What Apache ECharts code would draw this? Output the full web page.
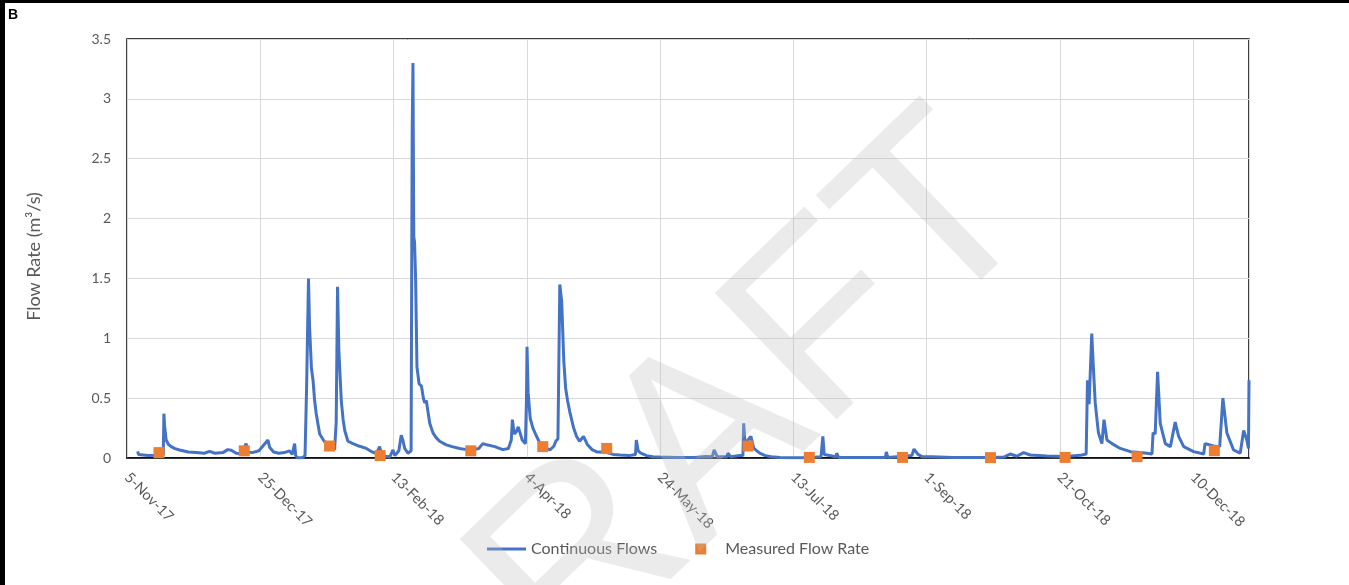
<!DOCTYPE html>
<html><head><meta charset="utf-8">
<script src="https://cdn.jsdelivr.net/npm/echarts@6/dist/echarts.min.js"></script>
<style>html,body{margin:0;padding:0;background:#fff}#c{width:1349px;height:585px}</style>
</head><body><div id="c"></div>
<script>
// x axis: days since 5-Nov-2017 (ticks every 50 days)
const startYMD = [2017, 10, 5];
const xMinDay = 0, xMaxDay = 421, xStepDays = 50;
const monthNames = ['Jan','Feb','Mar','Apr','May','Jun','Jul','Aug','Sep','Oct','Nov','Dec'];
const yMin = 0, yMax = 3.5, yStep = 0.5;

// Continuous flows (m3/s), sampled at key times (days since 5-Nov-2017)
const flowDays = [4.0,4.3,5.0,8.0,11.0,13.6,13.85,14.1,14.7,15.5,16.6,18,19.7,23,26,29,31,33,36,37.8,39.1,41,43,44.7,45.3,47,49.5,51,52.9,53.5,55,57,59,61,62,62.9,63.3,64,66,66.8,67.4,68.1,68.5,69.2,69.8,70.4,71,72.3,74,76,77.9,78.5,79.0,79.5,80.4,81.1,81.7,82.9,84.8,87,89.8,92,93.6,94.8,95.5,97,98.6,99.8,100.5,102,102.9,103.5,104.2,105.4,106.6,107.0,107.3,107.6,107.9,108.3,108.8,109.6,110.5,111.2,111.7,112.3,113.6,114.8,116,117.3,119.8,122,124.8,127.4,129,132,133.5,135,138,141,143.1,144.2,144.6,145.3,146.1,146.8,148.3,149.5,149.9,150.1,150.5,151.3,152.3,153.5,155,156.5,158.7,160.2,160.9,161.7,162.1,162.4,163.1,163.9,164.6,165.3,166.1,167.6,168.7,169.8,171.3,172.8,174.5,176.5,179.5,182.4,185,188.4,190.8,191.1,191.8,192.8,195,197.3,200,206.2,213,217,219.6,220.3,221.5,225.1,225.5,226.5,229.9,231.1,231.4,231.9,232.3,233,234.1,235.2,237.4,239.5,241.8,245,249,255,260.4,261.1,261.6,262.3,266,266.3,267,275,284.6,284.9,285.5,294.5,295.3,296.8,298.5,301.9,302.6,310,320,325,329,331.4,333.9,336.4,338.9,345.2,352,357.7,359.9,360.4,361.0,362.0,362.6,363.3,364.5,365.8,366.6,367.7,369.6,372.7,376.5,380,382.7,384.6,385.0,385.8,386.7,387.7,389.6,391.5,393.3,394.6,396.5,400.2,404,404.5,405.2,407.7,410,411.2,412.7,415.2,417.7,419,420.2,420.8,421];
const flowValues = [0.055,0.03,0.022,0.02,0.022,0.025,0.37,0.27,0.15,0.115,0.095,0.078,0.067,0.05,0.045,0.04,0.055,0.04,0.045,0.07,0.065,0.04,0.035,0.12,0.05,0.045,0.06,0.1,0.15,0.09,0.05,0.04,0.045,0.06,0.03,0.12,0.02,0.0,0.005,0.02,0.6,1.5,1.1,0.75,0.65,0.48,0.37,0.2,0.14,0.11,0.07,0.3,1.43,0.9,0.48,0.32,0.23,0.14,0.12,0.1,0.08,0.05,0.04,0.095,0.03,0.015,0.01,0.067,0.02,0.06,0.19,0.15,0.08,0.04,0.06,2.7,3.3,1.85,1.8,1.49,0.76,0.62,0.6,0.5,0.46,0.48,0.29,0.21,0.17,0.14,0.11,0.095,0.08,0.07,0.065,0.08,0.12,0.11,0.095,0.07,0.08,0.15,0.32,0.2,0.22,0.26,0.15,0.12,0.5,0.93,0.55,0.33,0.25,0.19,0.12,0.09,0.067,0.1,0.14,0.16,0.9,1.45,1.31,0.81,0.58,0.48,0.39,0.25,0.18,0.14,0.18,0.11,0.07,0.05,0.05,0.03,0.025,0.02,0.03,0.15,0.06,0.04,0.02,0.01,0.008,0.005,0.005,0.012,0.01,0.067,0.01,0.01,0.04,0.01,0.02,0.02,0.29,0.12,0.12,0.15,0.18,0.08,0.04,0.02,0.01,0.005,0.003,0.003,0.01,0.18,0.03,0.02,0.01,0.04,0.005,0.004,0.005,0.05,0.005,0.02,0.075,0.03,0.01,0.01,0.005,0.004,0.004,0.005,0.008,0.033,0.015,0.045,0.025,0.017,0.012,0.022,0.033,0.65,0.45,1.04,0.76,0.46,0.21,0.12,0.32,0.15,0.12,0.08,0.053,0.045,0.04,0.033,0.21,0.2,0.72,0.29,0.12,0.095,0.30,0.18,0.095,0.053,0.033,0.12,0.12,0.10,0.095,0.50,0.21,0.067,0.04,0.23,0.15,0.08,0.65];

// Measured flow rate (m3/s)
const measuredDates = ['2017-11-17','2017-12-19','2018-01-20','2018-02-08','2018-03-14','2018-04-10','2018-05-04','2018-06-26','2018-07-19','2018-08-23','2018-09-25','2018-10-23','2018-11-19','2018-12-18'];
const measuredValues = [0.045,0.06,0.10,0.02,0.06,0.095,0.08,0.10,0.005,0.005,0.003,0.005,0.011,0.061];

const seriesNames = ['Continuous Flows', 'Measured Flow Rate'];
const yAxisTitle = 'Flow Rate (m\u00B3/s)';
const panelLabel = 'B';
const watermarkText = 'DRAFT';

function dayOf(s) {
  const p = s.split('-').map(Number);
  return (Date.UTC(p[0], p[1] - 1, p[2]) - Date.UTC(startYMD[0], startYMD[1], startYMD[2])) / 864e5;
}
function fmtDay(v) {
  const d = new Date(Date.UTC(startYMD[0], startYMD[1], startYMD[2] + Math.round(v)));
  return d.getUTCDate() + '-' + monthNames[d.getUTCMonth()] + '-' + String(d.getUTCFullYear()).slice(2);
}

const flowData = flowDays.map((d, i) => [d, flowValues[i]]);
const measuredData = measuredDates.map((s, i) => [dayOf(s), measuredValues[i]]);

const FONT = 'Lato';
const chart = echarts.init(document.getElementById('c'), null, {renderer: 'canvas'});
chart.setOption({
  animation: false,
  backgroundColor: '#fff',
  grid: {left: 127, right: 100, top: 39, bottom: 127, show: true, borderColor: '#000', borderWidth: 1.5, backgroundColor: 'transparent'},
  xAxis: {
    type: 'value', min: xMinDay, max: xMaxDay, interval: xStepDays,
    axisLine: {show: true, lineStyle: {color: '#000', width: 1.5}},
    axisTick: {show: false},
    splitLine: {show: true, lineStyle: {color: '#d9d9d9', width: 1}},
    axisLabel: {rotate: -45, margin: 17, color: '#595959', fontFamily: FONT, fontSize: 14.5, formatter: fmtDay, showMaxLabel: false}
  },
  yAxis: {
    type: 'value', min: yMin, max: yMax, interval: yStep,
    name: yAxisTitle, nameLocation: 'middle', nameGap: 84,
    nameTextStyle: {color: '#595959', fontFamily: FONT, fontSize: 18, padding: [0, 16, 0, 0]},
    axisLine: {show: false}, axisTick: {show: false},
    splitLine: {show: true, lineStyle: {color: '#d9d9d9', width: 1}},
    axisLabel: {margin: 16, color: '#595959', fontFamily: FONT, fontSize: 14}
  },
  legend: {
    left: 482, top: 536, itemWidth: 39, itemHeight: 11, itemGap: 38,
    textStyle: {color: '#595959', fontFamily: FONT, fontSize: 16},
    data: [
      {name: seriesNames[0], icon: 'path://M0,0H39V3H0Z'},
      {name: seriesNames[1], icon: 'path://M0,0H11V11H0Z'}
    ]
  },
  series: [
    {name: seriesNames[0], type: 'line', data: flowData, symbol: 'none', showSymbol: false,
     lineStyle: {color: '#4472C4', width: 3}, itemStyle: {color: '#4472C4'}, z: 2},
    {name: seriesNames[1], type: 'scatter', data: measuredData, symbol: 'rect', symbolSize: 11,
     itemStyle: {color: '#ED7D31', opacity: 1}, z: 3}
  ],
  graphic: [
    {type: 'rect', left: 0, top: 0, shape: {width: 5, height: 585}, style: {fill: '#000'}, z: 200},
    {type: 'rect', left: 0, top: 0, shape: {width: 1349, height: 3}, style: {fill: '#000'}, z: 200},
    {type: 'text', left: 8, top: 8, style: {text: panelLabel, fontFamily: 'Liberation Sans', fontWeight: 'bold', fontSize: 14, fill: '#000'}, z: 200},
    {type: 'text', x: 691, y: 462, rotation: 44 * Math.PI / 180, silent: true, z: 100,
     style: {text: watermarkText, fontFamily: 'Liberation Sans', fontSize: 255, fill: 'rgba(190,190,190,0.3)', align: 'center', verticalAlign: 'middle'}}
  ]
});
</script>
</body></html>
